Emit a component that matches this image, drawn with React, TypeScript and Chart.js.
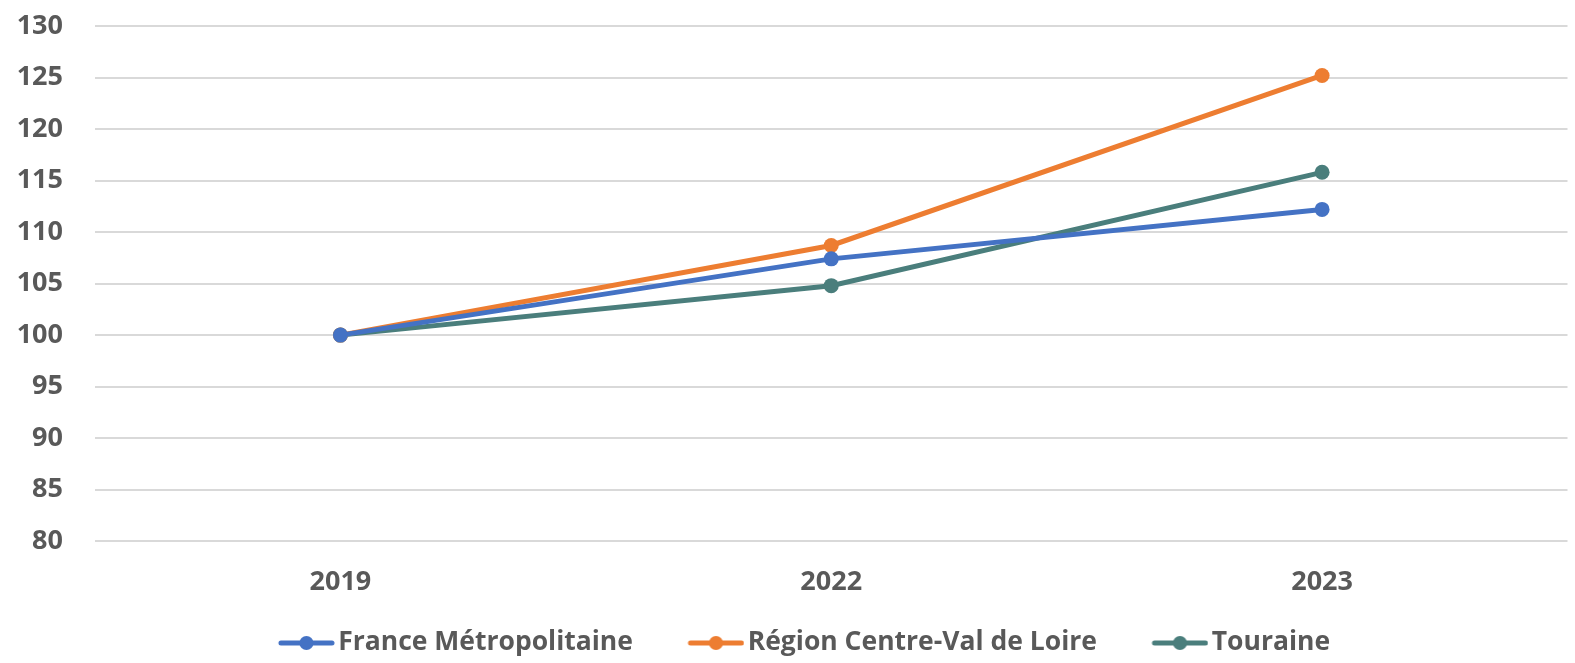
import React, { useEffect, useRef } from "react";
import { Chart, registerables } from "chart.js";

Chart.register(...registerables);

const categories = ["2019", "2022", "2023"];
const franceValues = [100, 107.4, 112.2];
const regionValues = [100, 108.7, 125.2];
const touraineValues = [100, 104.8, 115.8];
const seriesNames = ["France Métropolitaine", "Région Centre-Val de Loire", "Touraine"];
const seriesColors = ["#4472C4", "#ED7D31", "#4A7E7C"];

const FONT = "'Open Sans', 'Liberation Sans', sans-serif";
const FONT_SIZE = 27;
const LEGEND_FONT_SIZE = 26.5;

function legendIcon(color: string): HTMLCanvasElement {
  const c = document.createElement("canvas");
  c.width = 92;
  c.height = 16;
  const ctx = c.getContext("2d")!;
  ctx.strokeStyle = color;
  ctx.lineWidth = 5;
  ctx.lineCap = "round";
  ctx.beginPath();
  ctx.moveTo(38, 8);
  ctx.lineTo(89, 8);
  ctx.stroke();
  ctx.fillStyle = color;
  ctx.beginPath();
  ctx.arc(63.5, 8, 7, 0, Math.PI * 2);
  ctx.fill();
  return c;
}

export default function App() {
  const ref = useRef<HTMLCanvasElement | null>(null);
  useEffect(() => {
    if (!ref.current) return;
    const icons = seriesColors.map(legendIcon);
    const data = [franceValues, regionValues, touraineValues];
    const chart = new Chart(ref.current, {
      type: "line",
      data: {
        labels: categories,
        datasets: seriesNames.map((name, i) => ({
          label: name,
          data: data[i],
          borderColor: seriesColors[i],
          backgroundColor: seriesColors[i],
          borderWidth: 5,
          pointRadius: 7.5,
          pointHoverRadius: 7.5,
          pointBorderWidth: 0,
          pointStyle: "circle",
          tension: 0,
        })),
      },
      options: {
        animation: false,
        responsive: false,
        layout: { padding: { left: 12, right: 4, top: 26, bottom: -3.2 } },
        plugins: {
          tooltip: { enabled: false },
          legend: {
            position: "bottom",
            labels: {
              usePointStyle: true,
              pointStyleWidth: 72,
              padding: 29.5,
              color: "#595959",
              font: { family: FONT, size: LEGEND_FONT_SIZE, weight: "bold" },
              generateLabels: (ch: any) =>
                ch.data.datasets.map((ds: any, i: number) => ({
                  text: ds.label,
                  fillStyle: seriesColors[i],
                  strokeStyle: seriesColors[i],
                  lineWidth: 0,
                  pointStyle: icons[i],
                  hidden: false,
                  datasetIndex: i,
                  fontColor: "#595959",
                })),
            },
          },
        },
        scales: {
          x: {
            offset: true,
            grid: { display: false, drawTicks: false },
            border: { display: false },
            afterFit: (s: any) => {
              s.height = 59;
            },
            ticks: {
              padding: 24.8,
              color: "#595959",
              font: { family: FONT, size: FONT_SIZE, weight: "bold" },
            },
          },
          y: {
            min: 80,
            max: 130,
            grid: { color: "#D9D9D9", lineWidth: 2, drawTicks: false },
            border: { display: false },
            afterFit: (s: any) => {
              s.width = 83;
              s.paddingTop = 0;
              s.paddingBottom = 0;
            },
            ticks: {
              stepSize: 5,
              padding: 32,
              color: "#595959",
              font: { family: FONT, size: FONT_SIZE, weight: "bold" },
            },
          },
        },
      },
    } as any);
    return () => chart.destroy();
  }, []);
  return (
    <div style={{ position: "fixed", left: 0, top: 0, width: 1575, height: 663, background: "#fff" }}>
      <canvas ref={ref} width={1575} height={663} style={{ width: 1575, height: 663 }} />
    </div>
  );
}
